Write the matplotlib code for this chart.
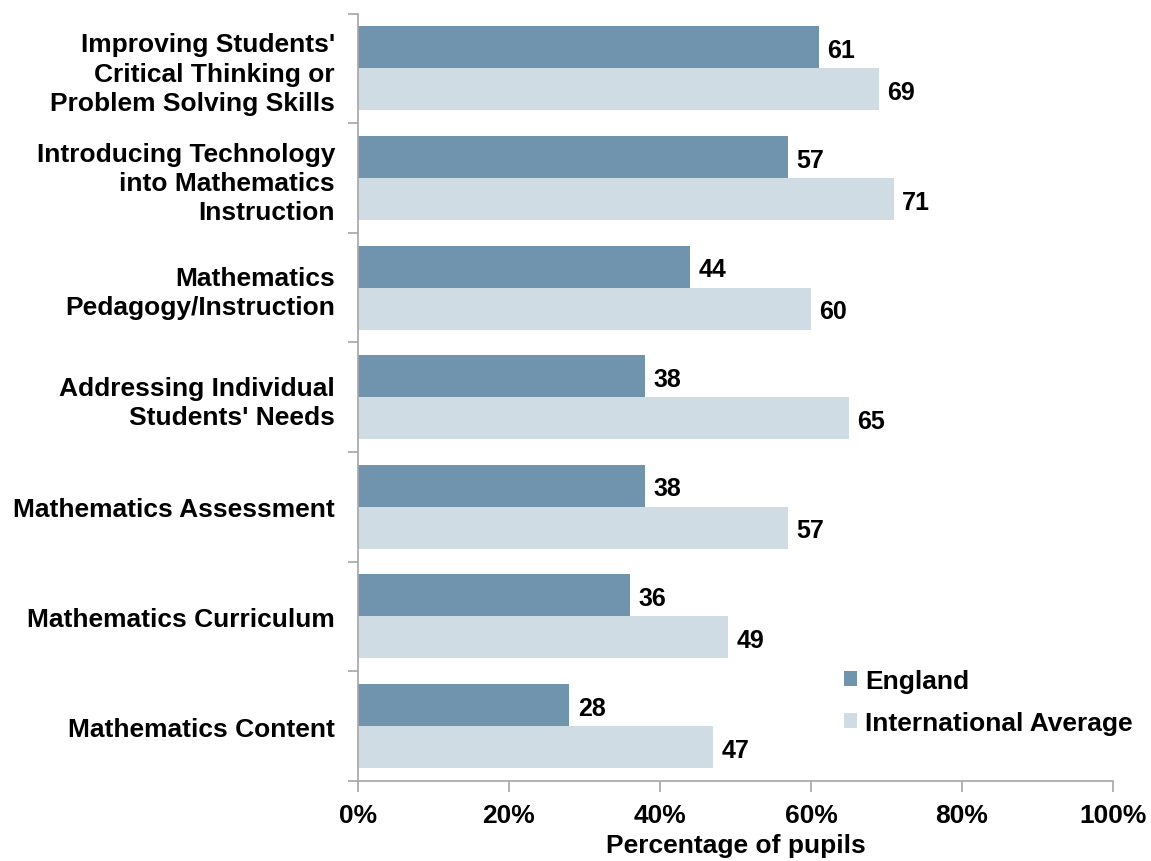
import numpy as np
import matplotlib
matplotlib.use("Agg")
import matplotlib.pyplot as plt

plt.rcParams["font.family"] = ["Liberation Sans", "DejaVu Sans"]
plt.rcParams["font.weight"] = "bold"

categories = [
    "Improving Students'\nCritical Thinking or\nProblem Solving Skills",
    "Introducing Technology\ninto Mathematics\nInstruction",
    "Mathematics\nPedagogy/Instruction",
    "Addressing Individual\nStudents' Needs",
    "Mathematics Assessment",
    "Mathematics Curriculum",
    "Mathematics Content",
]
england = [61, 57, 44, 38, 38, 36, 28]
international = [69, 71, 60, 65, 57, 49, 47]
series_names = ["England", "International Average"]

ENG_COLOR = "#7094ad"
INT_COLOR = "#cfdce4"
AXIS_COLOR = "#a6a6a6"
FS = 19

fig = plt.figure(figsize=(11.51, 8.62), dpi=100)
ax = fig.add_axes([0.311, 0.093, 0.656, 0.890])

n = len(categories)
y = np.arange(n)
h = 0.383
b1 = ax.barh(y - h / 2, england, height=h, color=ENG_COLOR, label=series_names[0])
b2 = ax.barh(y + h / 2, international, height=h, color=INT_COLOR, label=series_names[1])

for bars, vals in ((b1, england), (b2, international)):
    for bar, v in zip(bars, vals):
        ax.text(v + 1.1, bar.get_y() + bar.get_height() / 2, f"{v}",
                va="center_baseline", ha="left", fontsize=18, fontweight="bold")

ax.set_ylim(n - 0.5, -0.5)
ax.set_xlim(0, 100)
ax.set_yticks(y)
ax.set_yticklabels(categories, fontsize=FS, fontweight="bold", ha="right",
                   multialignment="right", linespacing=1.27)
ax.set_yticks(np.arange(-0.5, n, 1), minor=True)
ax.tick_params(axis="y", which="major", length=0, pad=16.5)
ax.tick_params(axis="y", which="minor", length=7, color=AXIS_COLOR, width=1.2, direction="out")

ax.set_xticks([0, 20, 40, 60, 80, 100])
ax.set_xticklabels(["0%", "20%", "40%", "60%", "80%", "100%"], fontsize=FS, fontweight="bold")
ax.tick_params(axis="x", length=8, color=AXIS_COLOR, width=1.2, direction="out", pad=8)
ax.set_xlabel("Percentage of pupils", fontsize=FS, fontweight="bold", labelpad=4)

for s in ("top", "right"):
    ax.spines[s].set_visible(False)
for s in ("left", "bottom"):
    ax.spines[s].set_color(AXIS_COLOR)
    ax.spines[s].set_linewidth(1.2)

leg = ax.legend(loc="upper left", bbox_to_anchor=(0.644, 0.146), frameon=False,
                fontsize=FS, handlelength=0.5, handleheight=0.5, handletextpad=0.3,
                labelspacing=0.68, borderaxespad=0, borderpad=0)
for t in leg.get_texts():
    t.set_fontweight("bold")

fig.savefig("out.png", dpi=100)
